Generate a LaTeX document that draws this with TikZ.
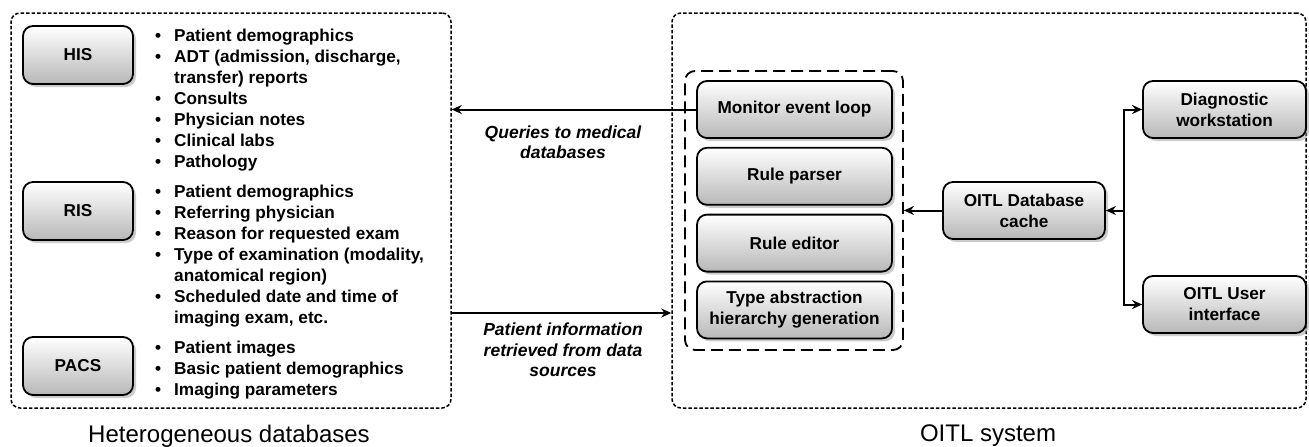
\documentclass[tikz,border=0pt]{standalone}
\usepackage{fontspec}
\setmainfont{Liberation Sans}
\usetikzlibrary{positioning}
\usetikzlibrary{shadows}
\usetikzlibrary{arrows.meta}
\tikzset{
    % Filled arrow heads throughout
    >={Stealth[length=10pt,width=9pt]},
%
    % Shaded boxes with a soft drop shadow
    unit box/.style={
        draw, line width=1.8pt, rounded corners=10pt,
        top color=white, bottom color=black!28,
        drop shadow={shadow xshift=3pt, shadow yshift=-3pt, fill=black!40},
        align=center, font=\fontsize{17.2}{21}\selectfont\bfseries},
    % Boxes of the rule engine stack
    engine box/.style={unit box, minimum width=195pt, minimum height=57pt},
    % Boxes of the data sources
    source box/.style={unit box, minimum width=110pt, minimum height=58pt},
%
    % Outer frames round each side
    group frame/.style={draw, line width=1.5pt, rounded corners=9pt,
        dash pattern=on 3.5pt off 2pt},
    % Frame round the rule engine
    engine frame/.style={draw, line width=1.8pt, rounded corners=10pt,
        dash pattern=on 12pt off 6pt},
%
    % Bullet lists next to the sources
    item list/.style={anchor=north west, inner sep=0pt, align=left,
        font=\fontsize{17.2}{20.9}\selectfont\bfseries},
    % Italic notes on the connectors
    flow note/.style={align=center,
        font=\fontsize{17.5}{20.5}\selectfont\bfseries\itshape},
    % Captions under the frames
    caption/.style={font=\fontsize{24}{28}\selectfont},
    % Connector lines
    link/.style={line width=2pt, ->}}
\newcommand{\blt}{\makebox[19pt][l]{\textbullet}}
\newcommand{\cnt}{\hspace*{19pt}}

\begin{document}
\begin{tikzpicture}[x=1pt, y=-1pt]
\useasboundingbox (0,0) rectangle (1309,447);

% the two frames
\node [group frame, minimum width=440pt, minimum height=395pt]
    (sources) at (231,210.5) {};
\node [group frame, minimum width=634pt, minimum height=395pt]
    (oitl) at (989,210.5) {};
\node [caption] at (229,436) {Heterogeneous databases};
\node [caption] at (988,436) {OITL system};

% data sources and what they hold
\node [source box] (his) at (78,55) {HIS};
\node [source box] (ris) at (78,211) {RIS};
\node [source box] (pacs) at (78,366) {PACS};

\node [item list] (his items) at (155,29) {%
    \blt Patient demographics\\
    \blt ADT (admission, discharge,\\
    \cnt transfer) reports\\
    \blt Consults\\
    \blt Physician notes\\
    \blt Clinical labs\\
    \blt Pathology};
\node [item list] (ris items) at (155,185) {%
    \blt Patient demographics\\
    \blt Referring physician\\
    \blt Reason for requested exam\\
    \blt Type of examination (modality,\\
    \cnt anatomical region)\\
    \blt Scheduled date and time of\\
    \cnt imaging exam, etc.};
\node [item list] (pacs items) at (155,341) {%
    \blt Patient images\\
    \blt Basic patient demographics\\
    \blt Imaging parameters};

% rule engine
\node [engine box] (monitor) at (794.5,109.5) {Monitor event loop};
\node [engine box, below=8pt of monitor] (parser) {Rule parser};
\node [engine box, below=8pt of parser] (editor) {Rule editor};
\node [engine box, below=8pt of editor] (hierarchy)
    {Type abstraction\\hierarchy generation};
\node [engine frame, minimum width=218pt, minimum height=279pt]
    (engine) at (794,210.5) {};

% cache and clients
\node [unit box, minimum width=162pt, minimum height=57pt]
    (cache) at (1024,210.5) {OITL Database\\cache};
\node [unit box, minimum width=163pt, minimum height=57pt]
    (diag) at (1224.5,109.5) {Diagnostic\\workstation};
\node [unit box, minimum width=163pt, minimum height=57pt]
    (ui) at (1224.5,304.5) {OITL User\\interface};

% connectors
\coordinate (split) at (1124,210.5);
\coordinate (retrieve) at (0,313);

\draw [link] (monitor.west) -- (monitor.west -| sources.east);
\draw [link] (sources.east |- retrieve) -- (oitl.west |- retrieve);
\draw [link] (cache.west) -- (cache.west -| engine.east);
\draw [link] (split) -- (cache.east);
\draw [link] (split) |- (diag.west);
\draw [link] (split) |- (ui.west);

\node [flow note] at (563,142) {Queries to medical\\databases};
\node [flow note] at (563,350) {Patient information\\retrieved from data\\sources};

\end{tikzpicture}
\end{document}
